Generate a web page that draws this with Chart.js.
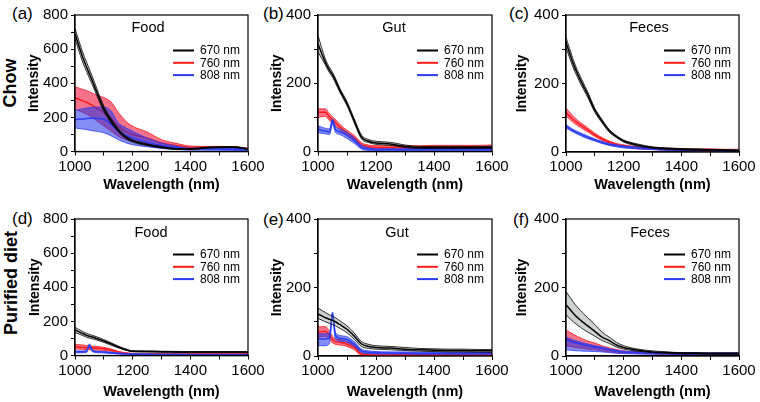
<!DOCTYPE html>
<html>
<head>
<meta charset="utf-8">
<script src="https://cdn.jsdelivr.net/npm/chart.js@4.4.1/dist/chart.umd.min.js"></script>
<style>
  body { margin: 0; background: #fff; width: 760px; height: 402px; position: relative; overflow: hidden;
         font-family: "Liberation Sans", Arial, sans-serif; color: #000; }
  canvas { position: absolute; }
  .tag { position: absolute; font-size: 17px; line-height: 1; transform: translate(0, -50%); white-space: nowrap; }
  .row { position: absolute; font-size: 18px; font-weight: bold; line-height: 1; white-space: nowrap;
         transform: translate(-50%, -50%) rotate(-90deg); }
</style>
</head>
<body>
<div class="tag" style="left:12px;top:13px">(a)</div>
<div class="tag" style="left:263px;top:13px">(b)</div>
<div class="tag" style="left:509px;top:13px">(c)</div>
<div class="tag" style="left:12px;top:218px">(d)</div>
<div class="tag" style="left:263px;top:219px">(e)</div>
<div class="tag" style="left:513px;top:219px">(f)</div>
<div class="row" style="left:10px;top:83px">Chow</div>
<div class="row" style="left:11px;top:283px">Purified diet</div>

<canvas id="a" width="270" height="200" style="left:0;top:0"></canvas>
<canvas id="b" width="265" height="200" style="left:250px;top:0"></canvas>
<canvas id="c" width="260" height="200" style="left:500px;top:0"></canvas>
<canvas id="d" width="270" height="202" style="left:0;top:200px"></canvas>
<canvas id="e" width="265" height="202" style="left:250px;top:200px"></canvas>
<canvas id="f" width="260" height="202" style="left:500px;top:200px"></canvas>

<script>
const wavelength = [1000, 1025, 1040, 1050, 1060, 1075, 1100, 1125, 1150, 1175, 1200, 1250, 1300, 1350, 1400, 1450, 1500, 1550, 1600];
const excitation = ['670 nm', '760 nm', '808 nm'];

// (a) Chow - Food
const chowFood670   = [690, 560, 495, 455, 415, 350, 250, 180, 125, 85, 62, 40, 25, 15, 14, 22, 25, 26, 15];
const chowFood670Lo = [660, 532, 468, 430, 392, 330, 235, 168, 115, 77, 55, 35, 21, 12, 11, 19, 22, 23, 12];
const chowFood670Hi = [722, 590, 524, 482, 440, 372, 266, 193, 135, 93, 69, 45, 29, 18, 17, 25, 28, 29, 18];
const chowFood760   = [315, 298, 288, 280, 270, 255, 228, 195, 150, 118, 100, 78, 50, 35, 25, 25, 25, 22, 15];
const chowFood760Lo = [250, 230, 218, 210, 200, 180, 150, 120, 90, 70, 60, 45, 30, 22, 18, 18, 18, 15, 10];
const chowFood760Hi = [380, 365, 357, 350, 342, 330, 316, 290, 230, 180, 148, 115, 70, 48, 32, 30, 30, 27, 20];
const chowFood808   = [188, 190, 193, 195, 195, 194, 190, 160, 120, 95, 80, 55, 35, 25, 15, 15, 14, 13, 10];
const chowFood808Lo = [138, 132, 128, 125, 122, 118, 110, 92, 70, 52, 40, 28, 18, 12, 8, 8, 7, 6, 5];
const chowFood808Hi = [241, 250, 255, 257, 259, 260, 260, 237, 168, 140, 118, 79, 50, 32, 20, 20, 20, 18, 15];

// (b) Chow - Gut
const chowGut670   = [315, 262, 238, 225, 208, 180, 140, 90, 42, 30, 25, 22, 15, 12, 12, 12, 12, 12, 12];
const chowGut670Lo = [292, 254, 230, 218, 201, 174, 134, 84, 37, 26, 21, 18, 12, 9, 9, 9, 9, 9, 9];
const chowGut670Hi = [340, 272, 246, 232, 215, 186, 146, 96, 48, 35, 30, 27, 19, 15, 15, 15, 15, 15, 15];
const chowGut760   = [115, 115, 100, 92, 85, 72, 55, 40, 20, 14, 12, 12, 12, 12, 13, 13, 14, 14, 15];
const chowGut760Lo = [100, 103, 90, 82, 76, 64, 48, 33, 14, 9, 8, 7, 7, 7, 8, 8, 9, 9, 10];
const chowGut760Hi = [125, 125, 110, 102, 94, 80, 62, 47, 26, 19, 17, 17, 17, 17, 18, 18, 18, 18, 19];
const chowGut808   = [65, 60, 58, 90, 65, 58, 47, 32, 12, 7, 5, 5, 5, 5, 5, 5, 5, 5, 5];
const chowGut808Lo = [55, 52, 50, 80, 56, 50, 38, 24, 7, 3, 2, 2, 2, 2, 2, 2, 2, 2, 2];
const chowGut808Hi = [75, 68, 66, 95, 74, 66, 56, 40, 18, 11, 8, 8, 8, 8, 8, 8, 8, 8, 8];

// (c) Chow - Feces
const chowFeces670   = [320, 258, 228, 210, 193, 168, 122, 90, 62, 45, 32, 20, 13, 10, 8, 7, 6, 5, 4];
const chowFeces670Lo = [305, 246, 218, 200, 184, 160, 116, 85, 58, 42, 29, 17, 11, 8, 6, 5, 4, 3, 2];
const chowFeces670Hi = [335, 270, 238, 220, 202, 176, 128, 95, 66, 48, 35, 23, 15, 12, 10, 9, 8, 7, 6];
const chowFeces760   = [115, 95, 85, 79, 73, 65, 50, 38, 29, 22, 18, 12, 10, 8, 7, 6, 6, 5, 5];
const chowFeces760Lo = [105, 86, 77, 72, 66, 59, 45, 34, 26, 19, 15, 9, 7, 5, 4, 3, 3, 2, 2];
const chowFeces760Hi = [128, 105, 93, 86, 80, 71, 55, 42, 32, 25, 21, 15, 13, 11, 10, 9, 9, 8, 8];
const chowFeces808   = [75, 62, 56, 52, 48, 43, 35, 28, 22, 18, 15, 12, 9, 7, 6, 5, 5, 4, 4];
const chowFeces808Lo = [70, 58, 52, 48, 44, 39, 32, 25, 19, 15, 12, 9, 7, 5, 4, 3, 3, 2, 2];
const chowFeces808Hi = [80, 66, 60, 56, 52, 47, 38, 31, 25, 21, 18, 14, 11, 9, 8, 7, 7, 6, 6];

// (d) Purified diet - Food
const purFood670   = [150, 130, 118, 113, 108, 100, 85, 68, 50, 35, 25, 24, 22, 21, 20, 20, 20, 20, 20];
const purFood670Lo = [135, 118, 107, 102, 98, 91, 77, 61, 45, 31, 22, 21, 19, 18, 17, 17, 17, 17, 17];
const purFood670Hi = [165, 142, 130, 124, 118, 110, 93, 75, 55, 39, 28, 27, 25, 24, 23, 23, 23, 23, 23];
const purFood760   = [50, 48, 46, 45, 44, 43, 40, 32, 20, 13, 10, 9, 9, 8, 8, 8, 8, 8, 8];
const purFood760Lo = [38, 36, 34, 33, 33, 32, 30, 25, 15, 9, 7, 6, 6, 5, 5, 5, 5, 5, 5];
const purFood760Hi = [65, 62, 59, 57, 55, 53, 48, 38, 25, 17, 13, 12, 12, 11, 11, 11, 11, 11, 11];
const purFood808   = [22, 22, 24, 62, 28, 22, 20, 16, 12, 9, 8, 7, 6, 6, 5, 5, 5, 5, 5];
const purFood808Lo = [16, 16, 18, 55, 22, 17, 15, 12, 9, 6, 5, 4, 4, 4, 3, 3, 3, 3, 3];
const purFood808Hi = [27, 27, 29, 68, 33, 26, 24, 20, 15, 12, 10, 9, 8, 8, 7, 7, 7, 7, 7];

// (e) Purified diet - Gut
const purGut670   = [123, 112, 107, 104, 100, 92, 78, 58, 35, 28, 25, 23, 20, 18, 17, 16, 16, 15, 15];
const purGut670Lo = [110, 100, 95, 92, 88, 81, 68, 49, 28, 22, 20, 18, 16, 14, 13, 12, 12, 11, 11];
const purGut670Hi = [140, 127, 120, 116, 112, 103, 88, 67, 42, 34, 30, 28, 25, 22, 21, 20, 20, 19, 19];
const purGut760   = [70, 72, 60, 48, 42, 40, 35, 25, 6, 4, 3, 3, 4, 4, 4, 5, 5, 5, 5];
const purGut760Lo = [55, 58, 48, 38, 34, 32, 28, 18, 2, 1, 1, 1, 1, 1, 1, 2, 2, 2, 2];
const purGut760Hi = [85, 86, 72, 58, 50, 48, 42, 32, 10, 7, 6, 6, 7, 7, 7, 8, 8, 8, 8];
const purGut808   = [50, 50, 55, 125, 60, 52, 48, 35, 15, 11, 10, 9, 9, 8, 8, 8, 8, 8, 8];
const purGut808Lo = [30, 30, 38, 118, 50, 44, 40, 28, 10, 7, 6, 6, 6, 5, 5, 5, 5, 5, 5];
const purGut808Hi = [65, 65, 68, 128, 70, 60, 56, 42, 20, 15, 13, 12, 12, 11, 11, 11, 11, 11, 11];

// (f) Purified diet - Feces
const purFeces670   = [150, 125, 112, 105, 98, 88, 72, 55, 45, 32, 25, 17, 12, 10, 8, 8, 7, 7, 7];
const purFeces670Lo = [120, 100, 90, 84, 78, 70, 58, 45, 37, 26, 20, 14, 10, 8, 6, 6, 5, 5, 5];
const purFeces670Hi = [188, 158, 142, 133, 124, 112, 92, 70, 55, 40, 30, 20, 15, 12, 10, 10, 9, 9, 9];
const purFeces760   = [50, 42, 38, 36, 34, 31, 27, 22, 18, 14, 12, 10, 8, 7, 6, 6, 6, 6, 6];
const purFeces760Lo = [30, 26, 24, 23, 22, 20, 18, 15, 12, 10, 9, 7, 6, 5, 4, 4, 4, 4, 4];
const purFeces760Hi = [76, 64, 57, 53, 49, 44, 38, 30, 24, 19, 15, 12, 10, 9, 8, 8, 8, 8, 8];
const purFeces808   = [48, 40, 37, 35, 33, 30, 26, 22, 18, 14, 12, 10, 8, 8, 7, 7, 7, 7, 7];
const purFeces808Lo = [18, 16, 15, 15, 14, 14, 13, 12, 10, 8, 7, 6, 5, 5, 4, 4, 4, 4, 4];
const purFeces808Hi = [55, 47, 43, 41, 38, 35, 30, 26, 21, 17, 14, 12, 10, 10, 9, 9, 9, 9, 9];

const lineColors = ['#000000', '#ff1c1c', '#2b3df5'];
const bandColors = ['rgba(110,130,120,0.35)', 'rgba(240,20,60,0.6)', 'rgba(30,50,235,0.55)'];
const FONT = '"Liberation Sans", Arial, sans-serif';

function toPoints(arr) {
  return arr.map((y, i) => ({ x: wavelength[i], y: y }));
}

// mean first so it is drawn over its own band
function band(mean, lo, hi, k) {
  return [
    { data: toPoints(mean), borderColor: lineColors[k], borderWidth: 1.5, fill: false },
    { data: toPoints(hi), borderColor: lineColors[k], borderWidth: 0.8, fill: false },
    { data: toPoints(lo), borderColor: lineColors[k], borderWidth: 0.8, fill: '-1', backgroundColor: bandColors[k] }
  ];
}

const deco = {
  id: 'deco',
  afterDraw(chart, args, o) {
    const { ctx, chartArea: a } = chart;
    ctx.save();
    ctx.strokeStyle = '#000';
    ctx.lineWidth = 1.2;
    ctx.strokeRect(a.left, a.top, a.right - a.left, a.bottom - a.top);
    ctx.fillStyle = '#000';
    ctx.font = '14.5px ' + FONT;
    ctx.textAlign = 'center';
    ctx.textBaseline = 'middle';
    ctx.fillText(o.title, o.titleX, o.titleY);
    ctx.font = '12px ' + FONT;
    ctx.textAlign = 'left';
    excitation.forEach((name, i) => {
      const y = a.top + 35.5 + i * 12.3;
      ctx.strokeStyle = lineColors[i];
      ctx.lineWidth = 2;
      ctx.beginPath();
      ctx.moveTo(a.right - 75, y);
      ctx.lineTo(a.right - 54, y);
      ctx.stroke();
      ctx.fillText(name, a.right - 48, y + 0.5);
    });
    ctx.restore();
  }
};

const panels = [
  { id: 'a', left: 0,   top: 0,   w: 270, h: 200, area: [75, 248, 15, 151.5], yMax: 800, yTitleX: 33.7, xTitleY: 185,
    title: 'Food', tx: 148, ty: 28,
    sets: [[chowFood670, chowFood670Lo, chowFood670Hi], [chowFood808, chowFood808Lo, chowFood808Hi], [chowFood760, chowFood760Lo, chowFood760Hi]] },
  { id: 'b', left: 250, top: 0,   w: 265, h: 200, area: [318, 492, 15, 151.5], yMax: 400, yTitleX: 277, xTitleY: 185,
    title: 'Gut', tx: 394, ty: 28,
    sets: [[chowGut670, chowGut670Lo, chowGut670Hi], [chowGut808, chowGut808Lo, chowGut808Hi], [chowGut760, chowGut760Lo, chowGut760Hi]] },
  { id: 'c', left: 500, top: 0,   w: 260, h: 200, area: [566, 739, 15, 152], yMax: 400, yTitleX: 522, xTitleY: 185,
    title: 'Feces', tx: 649, ty: 28,
    sets: [[chowFeces670, chowFeces670Lo, chowFeces670Hi], [chowFeces808, chowFeces808Lo, chowFeces808Hi], [chowFeces760, chowFeces760Lo, chowFeces760Hi]] },
  { id: 'd', left: 0,   top: 200, w: 270, h: 202, area: [75, 248, 219, 355.5], yMax: 800, yTitleX: 35, xTitleY: 391.7,
    title: 'Food', tx: 151, ty: 233,
    sets: [[purFood670, purFood670Lo, purFood670Hi], [purFood808, purFood808Lo, purFood808Hi], [purFood760, purFood760Lo, purFood760Hi]] },
  { id: 'e', left: 250, top: 200, w: 265, h: 202, area: [318, 492, 219, 356], yMax: 400, yTitleX: 277, xTitleY: 391.7,
    title: 'Gut', tx: 397, ty: 233,
    sets: [[purGut670, purGut670Lo, purGut670Hi], [purGut808, purGut808Lo, purGut808Hi], [purGut760, purGut760Lo, purGut760Hi]] },
  { id: 'f', left: 500, top: 200, w: 260, h: 202, area: [566, 739, 219, 356], yMax: 400, yTitleX: 522, xTitleY: 391.7,
    title: 'Feces', tx: 650, ty: 233,
    sets: [[purFeces670, purFeces670Lo, purFeces670Hi], [purFeces808, purFeces808Lo, purFeces808Hi], [purFeces760, purFeces760Lo, purFeces760Hi]] }
];

// colour index of each entry in sets: 670 black, 808 blue, 760 red (red drawn underneath)
const setColor = [0, 2, 1];

panels.forEach(p => {
  const [aL, aR, aT, aB] = p.area;
  const datasets = [];
  p.sets.forEach((s, i) => datasets.push(...band(s[0], s[1], s[2], setColor[i])));

  new Chart(document.getElementById(p.id), {
    type: 'line',
    data: { datasets },
    plugins: [deco],
    options: {
      responsive: false,
      animation: false,
      parsing: true,
      layout: { padding: { left: 0, top: aT - p.top, right: p.left + p.w - aR, bottom: 0 } },
      elements: {
        point: { radius: 0 },
        line: { cubicInterpolationMode: 'monotone' }
      },
      plugins: {
        legend: { display: false },
        tooltip: { enabled: false },
        deco: { title: p.title, titleX: p.tx - p.left, titleY: p.ty - p.top }
      },
      scales: {
        x: {
          type: 'linear', min: 1000, max: 1600,
          afterFit: s => { s.height = p.top + p.h - aB; },
          border: { color: '#000', width: 1.2 },
          grid: { drawOnChartArea: false, tickLength: 4, color: '#000', tickWidth: 1 },
          ticks: {
            stepSize: 100, autoSkip: false, maxRotation: 0, padding: 2, color: '#000',
            font: { family: FONT, size: 15 },
            callback: v => (v % 200 === 0 ? String(v) : '')
          },
          title: {
            display: true, text: 'Wavelength (nm)', color: '#000',
            font: { family: FONT, size: 14.5, weight: 'bold' },
            padding: { top: 0, bottom: p.top + p.h - p.xTitleY - 8.7 }
          }
        },
        y: {
          min: 0, max: p.yMax,
          afterFit: s => { s.width = aL - p.left; },
          border: { color: '#000', width: 1.2 },
          grid: { drawOnChartArea: false, tickLength: 4, color: '#000', tickWidth: 1 },
          ticks: {
            stepSize: 100, autoSkip: false, padding: 3, color: '#000',
            font: { family: FONT, size: 15 },
            callback: v => (v % 200 === 0 ? String(v) : '')
          },
          title: {
            display: true, text: 'Intensity', color: '#000',
            font: { family: FONT, size: 14, weight: 'bold' },
            padding: { top: p.yTitleX - p.left - 8.4, bottom: 0 }
          }
        }
      }
    }
  });
});
</script>
</body>
</html>
